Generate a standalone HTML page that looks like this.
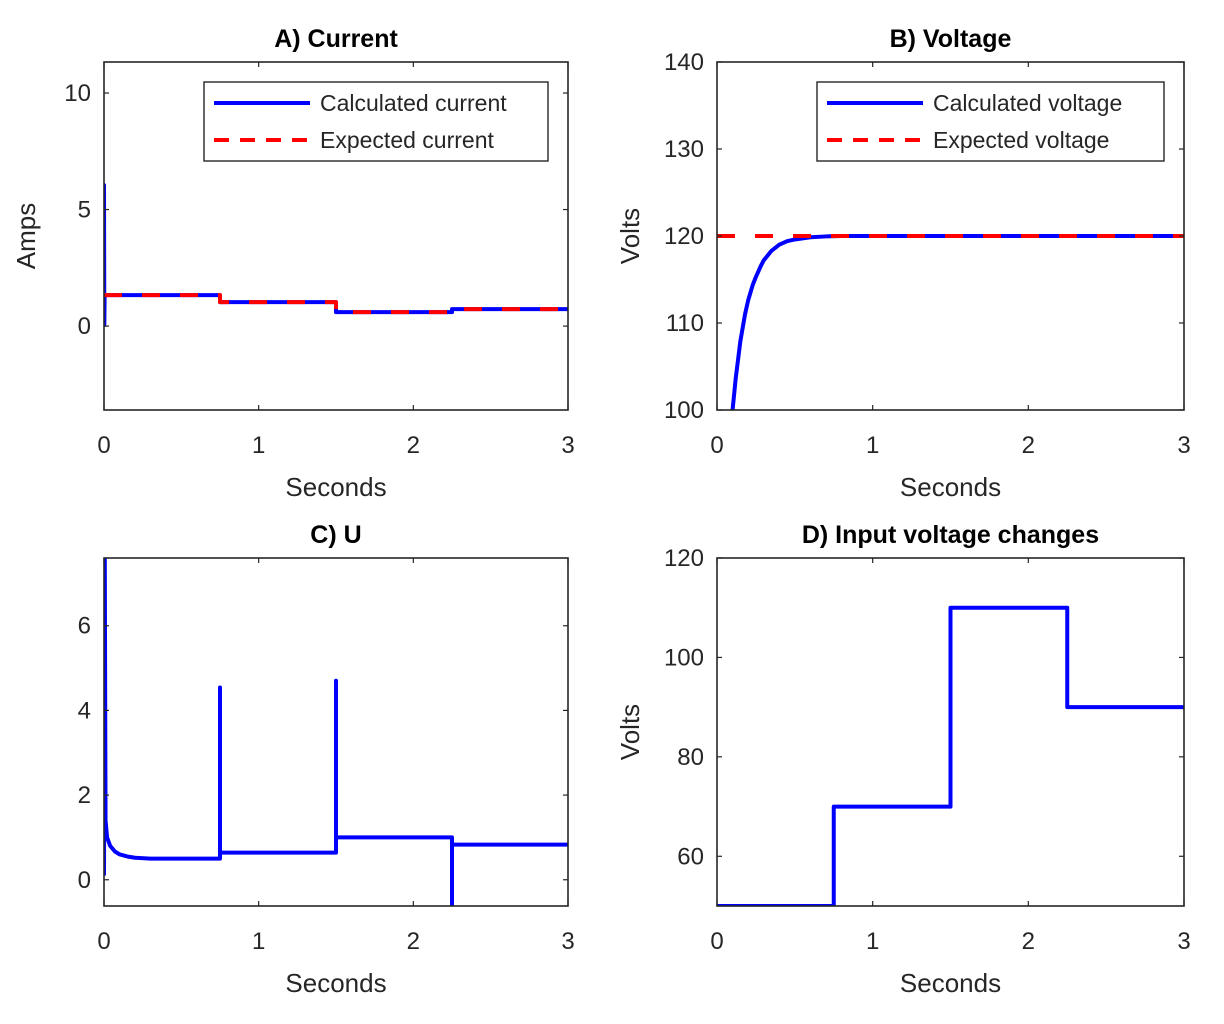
<!DOCTYPE html>
<html><head><meta charset="utf-8"><style>
body{margin:0;background:#fff;}
svg{display:block;font-family:"Liberation Sans",Arial,sans-serif;}
</style></head><body>
<svg id="fig" width="1224" height="1024"></svg>
<script>
// Panel A data
const stepTimes = [0, 0.75, 1.5, 2.25, 3];
const expectedCurrent = [1.33, 1.03, 0.6, 0.73];
const spikeA = [0, 6.05, 0.05, 1.33];
// Panel B data
const voltT = [0.1, 0.12, 0.15, 0.18, 0.2, 0.23, 0.25, 0.28, 0.3, 0.35, 0.4, 0.45, 0.5, 0.6, 0.7, 0.8, 1.0, 3.0];
const voltV = [100, 103.6, 107.9, 111.0, 112.6, 114.4, 115.3, 116.5, 117.2, 118.3, 119.0, 119.4, 119.6, 119.85, 119.95, 120, 120, 120];
const expectedVoltage = 120;
// Panel C data
const uT = [0, 0.005, 0.01, 0.02, 0.04, 0.07, 0.1, 0.15, 0.2, 0.3, 0.5, 0.75];
const uV = [0.1, 7.7, 1.4, 1.0, 0.8, 0.67, 0.6, 0.55, 0.52, 0.5, 0.5, 0.5];
const uSpikes = [4.54, 4.7, -0.7];
const uLevels = [0.64, 1.0, 0.83];
// Panel D data
const inputLevels = [50, 70, 110, 90];

const NS = 'http://www.w3.org/2000/svg';
const svg = document.getElementById('fig');
function mk(tag, attrs, parent){const e=document.createElementNS(NS,tag);for(const k in attrs)e.setAttribute(k,attrs[k]);(parent||svg).appendChild(e);return e;}
function txt(s, attrs, parent){const e=mk('text',attrs,parent);e.textContent=s;return e;}

function axes(cfg){
  const g = mk('g',{});
  
  
  const {x0,x1,y0,y1,ymin,ymax} = cfg;
  const sx = v => x0 + (v-0)/(3-0)*(x1-x0);
  const sy = v => y1 - (v-ymin)/(ymax-ymin)*(y1-y0);
  mk('rect',{x:x0,y:y0,width:x1-x0,height:y1-y0,fill:'#fff'},g);
  const clipId='c'+cfg.name;
  const cp=mk('clipPath',{id:clipId},g); mk('rect',{x:x0,y:y0,width:x1-x0,height:y1-y0},cp);
  const plot=mk('g',{'clip-path':'url(#'+clipId+')'},g);
  [0,1,2,3].forEach(t=>{
    const X=sx(t);
    mk('line',{x1:X,x2:X,y1:y1,y2:y1-5,stroke:'#262626','stroke-width':1.2},g);
    mk('line',{x1:X,x2:X,y1:y0,y2:y0+5,stroke:'#262626','stroke-width':1.2},g);
    const tl=txt(String(t),{x:X,y:y1+43,'text-anchor':'middle','font-size':24,fill:'#262626'},g);
     
  });
  cfg.yticks.forEach(t=>{
    const Y=sy(t);
    mk('line',{x1:x0,x2:x0+5,y1:Y,y2:Y,stroke:'#262626','stroke-width':1.2},g);
    mk('line',{x1:x1,x2:x1-5,y1:Y,y2:Y,stroke:'#262626','stroke-width':1.2},g);
    const tl=txt(String(t),{x:x0-13,y:Y+8,'text-anchor':'end','font-size':24,fill:'#262626'},g);
     
  });
  const xt=txt('Seconds',{x:(x0+x1)/2,y:y1+86,'text-anchor':'middle','font-size':26,fill:'#262626'},g);
   
  if(cfg.ylabel){
    const yt=txt(cfg.ylabel,{x:0,y:0,'text-anchor':'middle','font-size':26,fill:'#262626',transform:`translate(${x0-cfg.yoff},${(y0+y1)/2}) rotate(-90)`},g);
     
  }
  const tt=txt(cfg.title,{x:(x0+x1)/2,y:y0-15,'text-anchor':'middle','font-size':25,'font-weight':'bold',fill:'#000'},g);
   
  return {g,plot,sx,sy,finish:()=>{mk('rect',{x:x0,y:y0,width:x1-x0,height:y1-y0,fill:'none',stroke:'#262626','stroke-width':1.6},g);}};
}
function path(parent, pts, stroke, dash, name){
  const p=mk('polyline',{points:pts.map(p=>p.join(',')).join(' '),fill:'none',stroke:stroke,'stroke-width':4,'stroke-linejoin':'round'},parent);
  if(dash)p.setAttribute('stroke-dasharray',dash);
  
  
  return p;
}
function legend(g,x,y,w,labels){
  const lg=mk('g',{},g);
  
  
  mk('rect',{x:x,y:y,width:w,height:79,fill:'#fff',stroke:'#262626','stroke-width':1.4},lg);
  mk('line',{x1:x+10,x2:x+106,y1:y+21,y2:y+21,stroke:'#0000ff','stroke-width':4},lg);
  mk('line',{x1:x+10,x2:x+106,y1:y+58,y2:y+58,stroke:'#ff0000','stroke-width':4,'stroke-dasharray':'15,11'},lg);
  const a=txt(labels[0],{x:x+116,y:y+29,'font-size':23,fill:'#262626'},lg);
   
  const b=txt(labels[1],{x:x+116,y:y+66,'font-size':23,fill:'#262626'},lg);
   
}
function stepPts(A, levels){
  const pts=[];
  levels.forEach((v,i)=>{pts.push([A.sx(stepTimes[i]),A.sy(v)]);pts.push([A.sx(stepTimes[i+1]),A.sy(v)]);});
  return pts;
}

// Panel A
const A=axes({name:'panel-a-current',x0:104,x1:568,y0:62,y1:410,ymin:-3.6,ymax:11.33,yticks:[0,5,10],title:'A) Current',ylabel:'Amps',yoff:69});
const calcA=[[A.sx(0),A.sy(spikeA[0])],[A.sx(0),A.sy(spikeA[1])],[A.sx(0.002),A.sy(spikeA[2])],[A.sx(0.004),A.sy(spikeA[3])]].concat(stepPts(A,expectedCurrent).slice(1));
path(A.plot,calcA,'#0000ff',null,'calculated-current-line');
path(A.plot,stepPts(A,expectedCurrent),'#ff0000','18,20','expected-current-line');
A.finish();
legend(A.g,204,82,344,['Calculated current','Expected current']);

// Panel B
const B=axes({name:'panel-b-voltage',x0:717,x1:1184,y0:62,y1:410,ymin:100,ymax:140,yticks:[100,110,120,130,140],title:'B) Voltage',ylabel:'Volts',yoff:78});
path(B.plot,voltT.map((t,i)=>[B.sx(t),B.sy(voltV[i])]),'#0000ff',null,'calculated-voltage-line');
path(B.plot,[[B.sx(0),B.sy(expectedVoltage)],[B.sx(3),B.sy(expectedVoltage)]],'#ff0000','18,20','expected-voltage-line');
B.finish();
legend(B.g,817,82,347,['Calculated voltage','Expected voltage']);

// Panel C
const C=axes({name:'panel-c-u',x0:104,x1:568,y0:558,y1:906,ymin:-0.62,ymax:7.6,yticks:[0,2,4,6],title:'C) U',ylabel:''});
let cp=uT.map((t,i)=>[C.sx(t),C.sy(uV[i])]);
uSpikes.forEach((s,i)=>{
  const t=stepTimes[i+1];
  cp.push([C.sx(t),C.sy(s)]);
  cp.push([C.sx(t),C.sy(uLevels[i])]);
  cp.push([C.sx(stepTimes[i+2]),C.sy(uLevels[i])]);
});
path(C.plot,cp,'#0000ff',null,'u-line');
C.finish();

// Panel D
const D=axes({name:'panel-d-input-voltage',x0:717,x1:1184,y0:558,y1:906,ymin:50,ymax:120,yticks:[60,80,100,120],title:'D) Input voltage changes',ylabel:'Volts',yoff:78});
path(D.plot,stepPts(D,inputLevels),'#0000ff',null,'input-voltage-line');
D.finish();
</script>
</body></html>
